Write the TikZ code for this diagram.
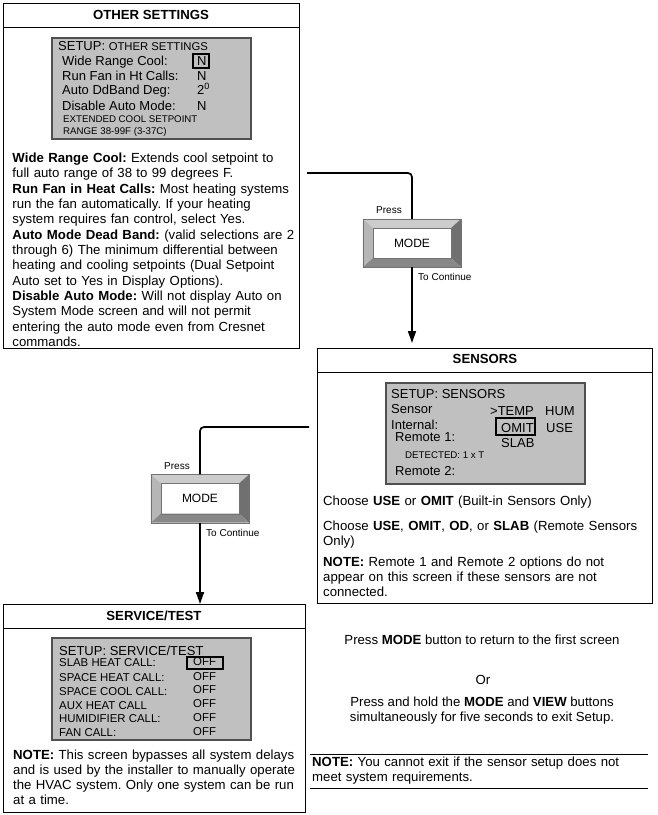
\documentclass[tikz,border=0pt]{standalone}
\usepackage{fontspec}
\setmainfont{Liberation Sans}
\usetikzlibrary{arrows.meta}
\frenchspacing
\definecolor{lcd}{RGB}{192,192,192}
\definecolor{lcdedge}{RGB}{80,80,80}
\definecolor{keytop}{RGB}{204,204,204}
\definecolor{keyleft}{RGB}{182,182,182}
\definecolor{keyright}{RGB}{112,112,112}
\definecolor{keybottom}{RGB}{136,136,136}
\newcommand{\bodyfont}{\fontsize{13.2}{15.33}\selectfont}
\newcommand{\lcdfont}{\fontsize{13}{15}\selectfont}
\newcommand{\lcdmid}{\fontsize{11.4}{13}\selectfont}
\newcommand{\lcdsmall}{\fontsize{9.7}{11}\selectfont}
\newcommand{\drawscreen}[4]{\draw[screen] (#1,#2) rectangle (#3,#4);}
\newcommand{\drawcursor}[4]{\draw[line width=1.2pt] (#1,#2) rectangle (#3,#4);}
\newcommand{\headrule}[1]{\draw[line width=1pt] ([yshift=-24pt]#1.north west) -- ([yshift=-24pt]#1.north east);}
\newcommand{\modekey}[3]{
    \node[modekey] (#1) at (#2,#3) {MODE};
    \fill[keytop] (#1.north west) -- (#1.north east) -- ([shift={(-10pt,-9pt)}]#1.north east) -- ([shift={(10pt,-9pt)}]#1.north west) -- cycle;
    \fill[keyleft] (#1.north west) -- ([shift={(10pt,-9pt)}]#1.north west) -- ([shift={(10pt,9pt)}]#1.south west) -- (#1.south west) -- cycle;
    \fill[keyright] (#1.north east) -- ([shift={(-10pt,-9pt)}]#1.north east) -- ([shift={(-10pt,9pt)}]#1.south east) -- (#1.south east) -- cycle;
    \fill[keybottom] (#1.south west) -- ([shift={(10pt,9pt)}]#1.south west) -- ([shift={(-10pt,9pt)}]#1.south east) -- (#1.south east) -- cycle;
    \draw[black!55, line width=0.4pt] ([shift={(10pt,-9pt)}]#1.north west) rectangle ([shift={(-10pt,9pt)}]#1.south east);
    \draw[black!55, line width=0.4pt] (#1.north west) rectangle (#1.south east);
    \node[keylabel, anchor=base east] (#1press) at ([shift={(-10pt,5pt)}]#1.north) {Press};
    \node[keylabel, anchor=base west] (#1cont) at ([shift={(6pt,-13.5pt)}]#1.south) {To Continue};
}
\tikzset{
    panel/.style={draw, line width=1pt, anchor=north west, inner sep=0pt},
    headtext/.style={anchor=base, inner sep=0pt, font=\bfseries\fontsize{13.2}{15}\selectfont},
    screen/.style={draw=lcdedge, fill=lcd, line width=1.5pt},
    lcdrow/.style={anchor=base west, inner sep=0pt, font=\lcdfont},
    bodytext/.style={anchor=base west, inner sep=0pt, align=left, text width=#1, font=\bodyfont},
    bodytext/.default=295pt,
    modekey/.style={fill=white, minimum width=98pt, minimum height=48pt, inner sep=0pt, font=\fontsize{12}{14}\selectfont},
    keylabel/.style={inner sep=0pt, font=\fontsize{10}{12}\selectfont},
    flow/.style={line width=1.7pt, rounded corners=4pt},
    arrowtip/.style={-{Triangle[length=12pt,width=8pt]}}
}
\begin{document}
\begin{tikzpicture}[x=1pt,y=-1pt]
\useasboundingbox (0,0) rectangle (658,815);
% other settings
\node[panel, minimum width=296pt, minimum height=345pt] (other) at (3,3) {};
\headrule{other}
\node[headtext] (otherhead) at (151,19) {OTHER SETTINGS};
\drawscreen{52}{38}{251}{139}
\node[lcdrow] (ossetup) at (58,50) {SETUP: {\fontsize{11.3}{13}\selectfont OTHER SETTINGS}};
\foreach \n/\yy/\lbl/\val in {1/65.7/Wide Range Cool:/N, 2/80/Run Fan in Ht Calls:/N, 3/94.3/Auto DdBand Deg:/2\textsuperscript{0}, 4/110/Disable Auto Mode:/N}{
    \node[lcdrow] (osrow\n) at (62,\yy) {\lbl};
    \node[lcdrow] (osval\n) at (197,\yy) {\val};
}
\drawcursor{193}{54}{209}{68}
\node[lcdrow, font=\lcdsmall] (osext) at (63,122.3) {EXTENDED COOL SETPOINT};
\node[lcdrow, font=\lcdsmall] (osrange) at (63,134.7) {RANGE 38-99F (3-37C)};
\node[bodytext] (otherbody) at (12.3,162.5) {\textbf{Wide Range Cool:} Extends cool setpoint to\\
full auto range of 38 to 99 degrees F.\\
\textbf{Run Fan in Heat Calls:} Most heating systems\\
run the fan automatically. If your heating\\
system requires fan control, select Yes.\\
\textbf{Auto Mode Dead Band:} (valid selections are 2\\
through 6) The minimum differential between\\
heating and cooling setpoints (Dual Setpoint\\
Auto set to Yes in Display Options).\\
\textbf{Disable Auto Mode:} Will not display Auto on\\
System Mode screen and will not permit\\
entering the auto mode even from Cresnet\\
commands.};
% sensors
\node[panel, minimum width=335pt, minimum height=255pt] (sensors) at (317,348) {};
\headrule{sensors}
\node[headtext] (senshead) at (485,363) {SENSORS};
\drawscreen{386}{383}{585}{484}
\node[lcdrow] (snsetup) at (391,398) {SETUP: SENSORS};
\node[lcdrow] (snsensor) at (391,413) {Sensor};
\node[lcdrow] (sntemp) at (490,415.7) {>TEMP};
\node[lcdrow] (snhum) at (545,415.7) {HUM};
\node[lcdrow] (sninternal) at (391,429) {Internal:};
\node[lcdrow] (snomit) at (501,432) {OMIT};
\node[lcdrow] (snuse) at (546,432) {USE};
\drawcursor{496}{418}{535}{435}
\node[lcdrow] (snremone) at (395,441.7) {Remote 1:};
\node[lcdrow] (snslab) at (501,447.7) {SLAB};
\node[lcdrow, font=\lcdsmall] (sndetect) at (405,458) {DETECTED: 1 x T};
\node[lcdrow] (snremtwo) at (395,475) {Remote 2:};
\node[bodytext=325pt] (sensbuiltin) at (323,505.7) {Choose \textbf{USE} or \textbf{OMIT} (Built-in Sensors Only)};
\node[bodytext=325pt, font=\fontsize{13.2}{15.5}\selectfont] (sensremote) at (323,530) {Choose \textbf{USE}, \textbf{OMIT}, \textbf{OD}, or \textbf{SLAB} (Remote Sensors\\
Only)};
\node[bodytext=325pt, font=\fontsize{13.2}{15.3}\selectfont] (sensnote) at (323,566) {\textbf{NOTE:} Remote 1 and Remote 2 options do not\\
appear on this screen if these sensors are not\\
connected.};
% service/test
\node[panel, minimum width=302pt, minimum height=208pt] (service) at (3,604) {};
\headrule{service}
\node[headtext] (servhead) at (154,620.7) {SERVICE/TEST};
\drawscreen{52}{638}{251}{740}
\node[lcdrow] (stsetup) at (59,655) {SETUP: SERVICE/TEST};
\foreach \n/\yy/\lbl in {1/666.7/SLAB HEAT CALL:, 2/681.7/SPACE HEAT CALL:, 3/695/SPACE COOL CALL:, 4/709/AUX HEAT CALL, 5/722.7/HUMIDIFIER CALL:, 6/736.7/FAN CALL:}{
    \node[lcdrow, font=\lcdmid] (strow\n) at (59,\yy) {\lbl};
    \node[lcdrow, font=\lcdmid] (stval\n) at (193,\yy-1.5) {OFF};
}
\drawcursor{187}{657}{223}{669}
\node[bodytext] (servnote) at (13,759) {\textbf{NOTE:} This screen bypasses all system delays\\
and is used by the installer to manually operate\\
the HVAC system. Only one system can be run\\
at a time.};
% exit
\node[anchor=base, inner sep=0pt, font=\bodyfont] (exitmode) at (482,644) {Press \textbf{MODE} button to return to the first screen};
\node[anchor=base, inner sep=0pt, font=\bodyfont] (exitor) at (483,684.3) {Or};
\node[anchor=base, inner sep=0pt, align=center, font=\fontsize{13.2}{14.5}\selectfont] (exithold) at (482,721) {Press and hold the \textbf{MODE} and \textbf{VIEW} buttons\\
simultaneously for five seconds to exit Setup.};
\draw[line width=1pt] (310,754) -- (648,754);
\draw[line width=1pt] (310,788) -- (648,788);
\node[bodytext=336pt, font=\fontsize{13.2}{14.5}\selectfont] (exitnote) at (312,766.7) {\textbf{NOTE:} You cannot exit if the sensor setup does not\\
meet system requirements.};
% mode keys and flow
\modekey{mode1}{412}{243}
\modekey{mode2}{200}{498.5}
\draw[flow, shorten <=7pt] (other.east |- 0,173) -| (mode1.north);
\draw[flow, arrowtip, shorten >=5pt] (mode1.south) -- (mode1.south |- sensors.north);
\draw[flow, shorten <=8pt] (sensors.west |- 0,427) -| (mode2.north);
\draw[flow, arrowtip] (mode2.south) -- (mode2.south |- service.north);
\end{tikzpicture}
\end{document}
